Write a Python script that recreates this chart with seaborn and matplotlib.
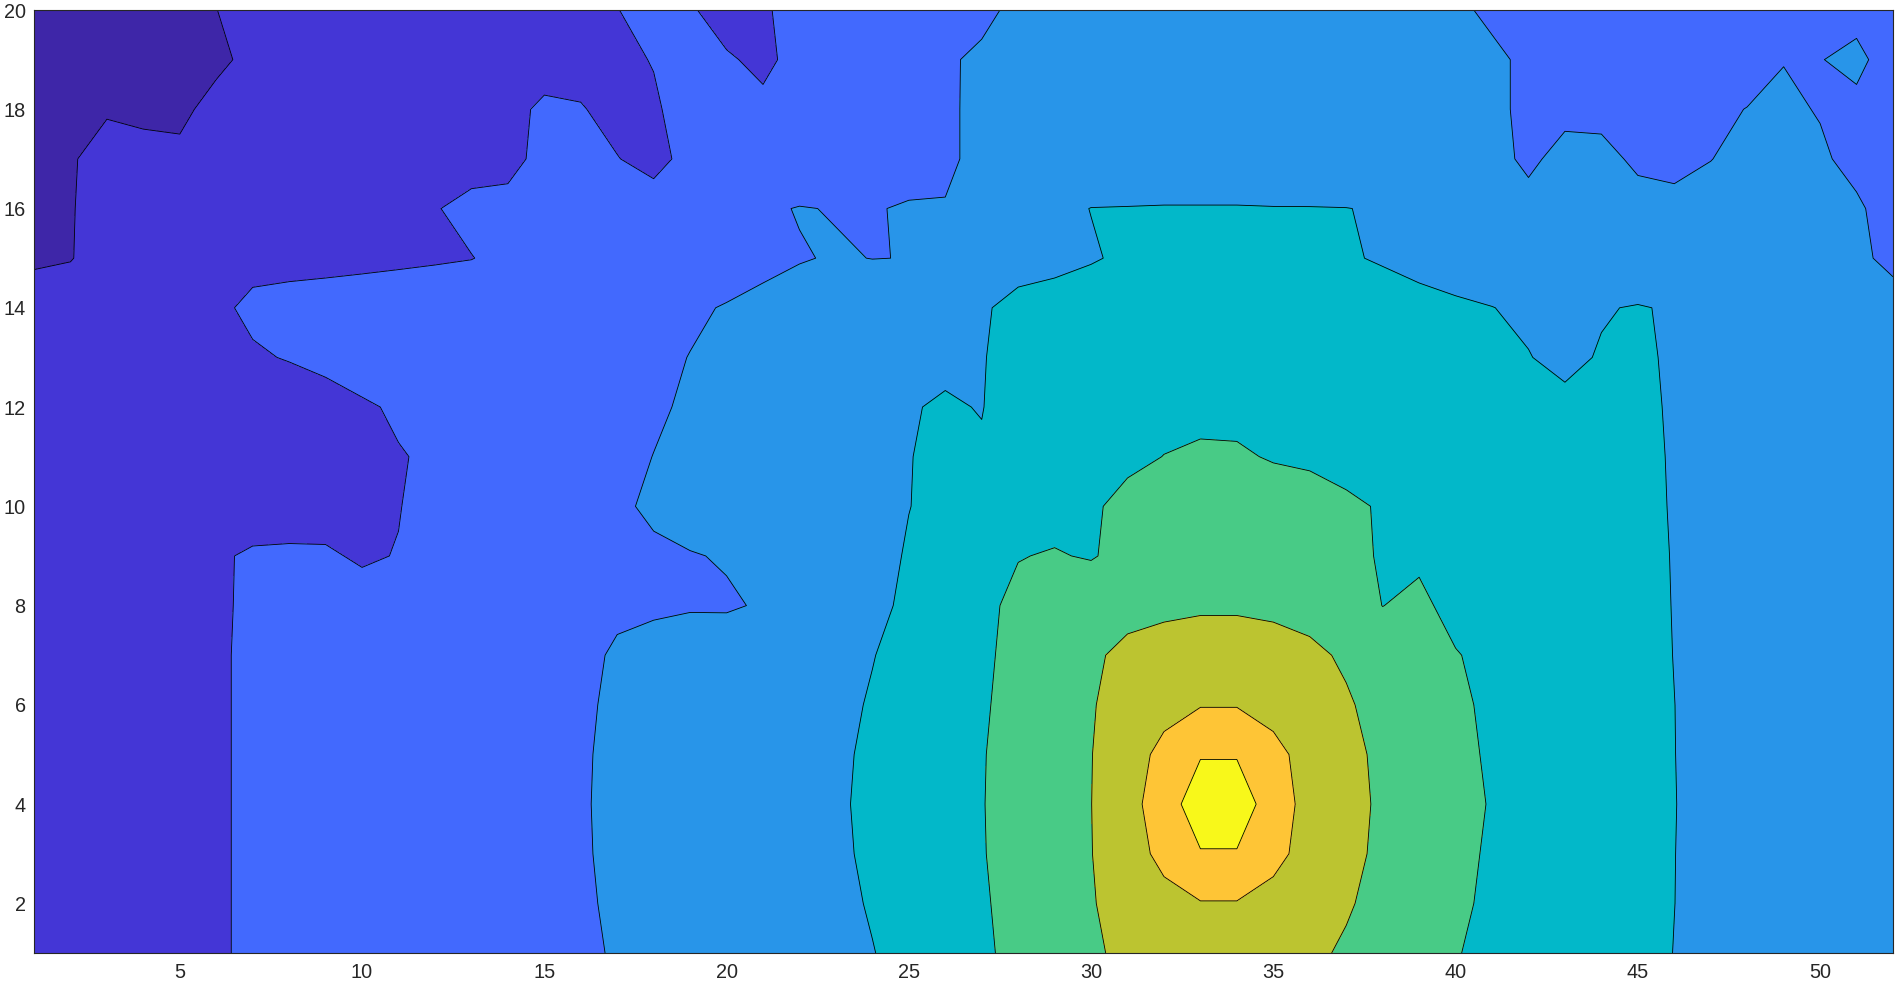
import numpy as np
import matplotlib
matplotlib.use("Agg")
import matplotlib.pyplot as plt
import seaborn as sns

# ---- data: grid coordinates -------------------------------------------------
x_coords = list(range(1, 53))   # 1 .. 52
y_coords = list(range(1, 21))   # 1 .. 20

# ---- data: field values, one row per y -------------------------------------
row_y01 = [1.5, 1.6, 1.65, 1.7, 1.8, 1.93, 2.1, 2.2, 2.3, 2.4,
           2.45, 2.5, 2.6, 2.7, 2.8, 2.9, 3.05, 3.15, 3.25, 3.35,
           3.45, 3.6, 3.75, 3.98, 4.2, 4.5, 4.85, 5.25, 5.6, 5.9,
           6.15, 6.3, 6.42, 6.42, 6.3, 6.15, 5.9, 5.55, 5.25, 5.05,
           4.75, 4.55, 4.4, 4.25, 4.1, 3.995, 3.9, 3.85, 3.8, 3.75,
           3.7, 3.65]
row_y02 = [1.5, 1.6, 1.65, 1.7, 1.8, 1.93, 2.1, 2.2, 2.3, 2.4,
           2.5, 2.6, 2.65, 2.75, 2.85, 2.93, 3.08, 3.2, 3.3, 3.4,
           3.55, 3.7, 3.85, 4.05, 4.3, 4.6, 4.9, 5.3, 5.65, 5.95,
           6.3, 6.65, 6.95, 6.95, 6.65, 6.35, 6.08, 5.75, 5.45, 5.15,
           4.85, 4.6, 4.45, 4.3, 4.15, 4.002, 3.9, 3.85, 3.8, 3.75,
           3.7, 3.65]
row_y03 = [1.5, 1.6, 1.65, 1.7, 1.8, 1.93, 2.1, 2.2, 2.3, 2.4,
           2.5, 2.6, 2.7, 2.8, 2.87, 2.95, 3.1, 3.2, 3.3, 3.45,
           3.55, 3.7, 3.9, 4.1, 4.35, 4.65, 4.95, 5.35, 5.7, 5.98,
           6.5, 7.3, 7.95, 7.95, 7.3, 6.6, 6.2, 5.85, 5.5, 5.2,
           4.9, 4.65, 4.5, 4.35, 4.2, 4.003, 3.92, 3.87, 3.82, 3.77,
           3.72, 3.67]
row_y04 = [1.5, 1.6, 1.65, 1.7, 1.8, 1.93, 2.1, 2.2, 2.3, 2.4,
           2.5, 2.6, 2.7, 2.8, 2.88, 2.96, 3.1, 3.2, 3.3, 3.45,
           3.6, 3.75, 3.92, 4.12, 4.4, 4.7, 4.96, 5.4, 5.7, 5.99,
           6.6, 7.6, 8.45, 8.45, 7.6, 6.6, 6.25, 5.88, 5.55, 5.25,
           4.95, 4.7, 4.5, 4.35, 4.2, 4.005, 3.93, 3.88, 3.83, 3.78,
           3.73, 3.68]
row_y05 = [1.5, 1.6, 1.65, 1.7, 1.8, 1.93, 2.1, 2.2, 2.3, 2.4,
           2.5, 2.6, 2.7, 2.8, 2.87, 2.95, 3.1, 3.2, 3.3, 3.45,
           3.55, 3.7, 3.9, 4.1, 4.35, 4.65, 4.95, 5.35, 5.7, 5.98,
           6.5, 7.3, 7.95, 7.95, 7.3, 6.6, 6.2, 5.85, 5.5, 5.2,
           4.9, 4.65, 4.5, 4.35, 4.2, 4.003, 3.92, 3.87, 3.82, 3.77,
           3.72, 3.67]
row_y06 = [1.5, 1.6, 1.65, 1.7, 1.8, 1.93, 2.1, 2.2, 2.3, 2.4,
           2.5, 2.6, 2.65, 2.75, 2.85, 2.93, 3.08, 3.2, 3.3, 3.4,
           3.55, 3.7, 3.85, 4.05, 4.3, 4.6, 4.9, 5.3, 5.65, 5.95,
           6.3, 6.65, 6.95, 6.95, 6.65, 6.35, 6.08, 5.75, 5.45, 5.15,
           4.85, 4.6, 4.45, 4.3, 4.15, 4.002, 3.9, 3.85, 3.8, 3.75,
           3.7, 3.65]
row_y07 = [1.5, 1.6, 1.65, 1.7, 1.8, 1.93, 2.1, 2.2, 2.3, 2.4,
           2.45, 2.5, 2.6, 2.7, 2.8, 2.9, 3.05, 3.12, 3.25, 3.35,
           3.45, 3.6, 3.75, 3.98, 4.2, 4.5, 4.85, 5.25, 5.6, 5.9,
           6.15, 6.3, 6.4, 6.4, 6.3, 6.15, 5.9, 5.5, 5.25, 5.05,
           4.75, 4.55, 4.4, 4.25, 4.1, 3.995, 3.9, 3.85, 3.8, 3.75,
           3.7, 3.65]
row_y08 = [1.5, 1.6, 1.65, 1.7, 1.8, 1.93, 2.08, 2.15, 2.2, 2.1,
           2.3, 2.4, 2.5, 2.6, 2.7, 2.8, 2.93, 2.95, 2.96, 2.94,
           3.05, 3.3, 3.55, 3.8, 4.15, 4.5, 4.8, 5.2, 5.5, 5.7,
           5.8, 5.85, 5.9, 5.9, 5.85, 5.75, 5.4, 4.99, 5.2, 4.7,
           4.5, 4.4, 4.3, 4.2, 4.1, 3.99, 3.9, 3.85, 3.8, 3.75,
           3.7, 3.65]
row_y09 = [1.5, 1.6, 1.65, 1.7, 1.8, 1.95, 2.05, 2.05, 2.03, 1.97,
           2.01, 2.15, 2.3, 2.45, 2.6, 2.7, 2.8, 2.9, 2.97, 3.04,
           3.3, 3.45, 3.6, 3.8, 4.05, 4.35, 4.6, 4.97, 5.06, 4.93,
           5.3, 5.5, 5.6, 5.6, 5.5, 5.35, 5.15, 4.95, 4.85, 4.75,
           4.65, 4.55, 4.45, 4.35, 4.2, 3.97, 3.85, 3.8, 3.75, 3.7,
           3.65, 3.6]
row_y10 = [1.45, 1.55, 1.6, 1.65, 1.7, 1.75, 1.8, 1.85, 1.9, 1.95,
           1.99, 2.1, 2.25, 2.4, 2.55, 2.7, 2.9, 3.1, 3.25, 3.4,
           3.55, 3.65, 3.75, 3.85, 3.99, 4.15, 4.35, 4.55, 4.7, 4.9,
           5.2, 5.35, 5.45, 5.45, 5.35, 5.25, 5.1, 4.95, 4.8, 4.7,
           4.6, 4.5, 4.45, 4.35, 4.2, 3.95, 3.85, 3.75, 3.7, 3.65,
           3.6, 3.55]
row_y11 = [1.4, 1.5, 1.6, 1.65, 1.7, 1.75, 1.8, 1.85, 1.9, 1.95,
           1.98, 2.05, 2.2, 2.35, 2.5, 2.65, 2.8, 3.01, 3.2, 3.35,
           3.5, 3.65, 3.8, 3.9, 3.98, 4.15, 4.06, 4.4, 4.6, 4.75,
           4.85, 5.01, 5.1, 5.08, 4.95, 4.9, 4.8, 4.7, 4.6, 4.5,
           4.45, 4.4, 4.3, 4.2, 4.15, 3.95, 3.8, 3.7, 3.65, 3.6,
           3.55, 3.5]
row_y12 = [1.3, 1.4, 1.5, 1.6, 1.65, 1.7, 1.75, 1.8, 1.85, 1.95,
           2.05, 2.15, 2.25, 2.35, 2.45, 2.55, 2.7, 2.9, 3.1, 3.25,
           3.4, 3.55, 3.7, 3.85, 3.97, 4.05, 3.98, 4.3, 4.5, 4.65,
           4.75, 4.8, 4.82, 4.82, 4.8, 4.75, 4.7, 4.6, 4.5, 4.4,
           4.3, 4.2, 4.15, 4.15, 4.1, 3.95, 3.75, 3.65, 3.55, 3.5,
           3.45, 3.4]
row_y13 = [1.2, 1.35, 1.5, 1.6, 1.7, 1.8, 1.96, 2.02, 2.1, 2.2,
           2.3, 2.4, 2.5, 2.6, 2.7, 2.75, 2.85, 2.9, 3.01, 3.1,
           3.25, 3.4, 3.55, 3.7, 3.97, 3.9, 3.97, 4.2, 4.35, 4.5,
           4.6, 4.65, 4.7, 4.7, 4.65, 4.6, 4.5, 4.4, 4.3, 4.2,
           4.1, 4.02, 3.85, 4.05, 4.1, 3.92, 3.8, 3.65, 3.55, 3.45,
           3.4, 3.3]
row_y14 = [1.1, 1.25, 1.4, 1.6, 1.75, 1.93, 2.07, 2.1, 2.12, 2.15,
           2.2, 2.25, 2.3, 2.5, 2.6, 2.7, 2.8, 2.88, 2.93, 3.03,
           3.15, 3.3, 3.4, 3.5, 3.6, 3.75, 3.9, 4.25, 4.3, 4.35,
           4.4, 4.45, 4.5, 4.5, 4.45, 4.4, 4.35, 4.25, 4.15, 4.08,
           4.01, 3.9, 3.85, 3.95, 4.05, 3.92, 3.75, 3.6, 3.5, 3.4,
           3.3, 3.2]
row_y15 = [0.97, 0.98, 1.2, 1.35, 1.45, 1.55, 1.9, 1.91, 1.92, 1.93,
           1.94, 1.96, 1.99, 2.1, 2.2, 2.3, 2.4, 2.5, 2.6, 2.75,
           2.85, 2.96, 3.05, 2.99, 3.01, 3.2, 3.45, 3.65, 3.8, 3.95,
           4.1, 4.2, 4.25, 4.25, 4.2, 4.15, 4.05, 3.95, 3.85, 3.75,
           3.65, 3.55, 3.45, 3.35, 3.3, 3.3, 3.35, 3.35, 3.3, 3.2,
           3.1, 2.88]
row_y16 = [0.85, 0.97, 1.2, 1.35, 1.45, 1.5, 1.55, 1.6, 1.7, 1.8,
           1.88, 1.98, 2.1, 2.05, 2.15, 2.2, 2.2, 2.15, 2.4, 2.65,
           2.9, 3.03, 2.97, 2.98, 3.03, 3.03, 3.5, 3.7, 3.85, 4.01,
           4.02, 4.03, 4.03, 4.03, 4.02, 4.02, 4.01, 3.95, 3.85, 3.75,
           3.6, 3.05, 3.3, 3.25, 3.1, 3.05, 3.2, 3.25, 3.2, 3.15,
           3.05, 2.85]
row_y17 = [0.8, 0.95, 1.2, 1.15, 1.1, 1.4, 1.5, 1.55, 1.6, 1.65,
           1.7, 1.8, 1.85, 1.95, 2.05, 2.1, 2.01, 1.9, 2.1, 2.2,
           2.3, 2.4, 2.55, 2.7, 2.85, 2.9, 3.15, 3.3, 3.4, 3.5,
           3.55, 3.6, 3.6, 3.6, 3.55, 3.5, 3.45, 3.35, 3.25, 3.15,
           3.05, 2.97, 3.05, 3.08, 2.95, 2.95, 2.99, 3.15, 3.12, 3.05,
           2.9, 2.8]
row_y18 = [0.7, 0.9, 0.95, 0.9, 0.9, 1.15, 1.3, 1.4, 1.5, 1.6,
           1.65, 1.7, 1.8, 1.9, 2.06, 2.02, 1.9, 1.97, 2.1, 2.15,
           2.1, 2.05, 2.3, 2.5, 2.7, 2.9, 3.15, 3.25, 3.35, 3.4,
           3.45, 3.5, 3.5, 3.5, 3.45, 3.4, 3.35, 3.25, 3.2, 3.1,
           3.05, 2.95, 2.96, 2.92, 2.85, 2.9, 2.91, 3.01, 3.06, 2.98,
           2.85, 2.75]
row_y19 = [0.6, 0.7, 0.75, 0.8, 0.85, 0.9, 1.12, 1.25, 1.35, 1.45,
           1.55, 1.6, 1.65, 1.7, 1.85, 1.88, 1.95, 2.01, 2.1, 2.05,
           1.9, 2.15, 2.3, 2.5, 2.7, 2.95, 3.07, 3.2, 3.3, 3.35,
           3.4, 3.45, 3.45, 3.45, 3.4, 3.35, 3.3, 3.25, 3.2, 3.1,
           3.05, 2.95, 2.9, 2.85, 2.8, 2.8, 2.8, 2.8, 2.99, 2.98,
           3.15, 2.7]
row_y20 = [0.6, 0.65, 0.7, 0.75, 0.8, 0.99, 1.3, 1.4, 1.45, 1.5,
           1.55, 1.6, 1.65, 1.7, 1.75, 1.85, 1.98, 2.3, 2.05, 1.8,
           1.95, 2.15, 2.3, 2.45, 2.6, 2.75, 2.9, 3.1, 3.2, 3.3,
           3.35, 3.4, 3.4, 3.4, 3.35, 3.3, 3.25, 3.2, 3.1, 3.05,
           2.95, 2.85, 2.8, 2.75, 2.7, 2.7, 2.7, 2.7, 2.75, 2.8,
           2.8, 2.6]

# ---- contour levels and colours --------------------------------------------
levels = [0, 1, 2, 3, 4, 5, 6, 7, 8, 9]
fill_colors = ["#3E26A8", "#4436D6", "#4269FE", "#2895E9", "#02B8C9",
               "#48CB86", "#BCC430", "#FEC536", "#F8F81A"]
x_ticks = [5, 10, 15, 20, 25, 30, 35, 40, 45, 50]
y_ticks = [2, 4, 6, 8, 10, 12, 14, 16, 18, 20]

Z = np.array([row_y01, row_y02, row_y03, row_y04, row_y05, row_y06, row_y07,
              row_y08, row_y09, row_y10, row_y11, row_y12, row_y13, row_y14,
              row_y15, row_y16, row_y17, row_y18, row_y19, row_y20])
X, Y = np.meshgrid(np.array(x_coords, dtype=float), np.array(y_coords, dtype=float))

sns.set_style("ticks")
plt.rcParams["font.family"] = ["Liberation Sans", "DejaVu Sans"]

fig = plt.figure(figsize=(18.97, 9.86), dpi=100)
ax = fig.add_axes([34 / 1897, 33 / 986, 1859 / 1897, 943 / 986])

pal = sns.color_palette(fill_colors)
ax.contourf(X, Y, Z, levels=levels, colors=pal)
ax.contour(X, Y, Z, levels=levels[1:-1], colors="black", linewidths=0.6)

ax.set_xlim(1, 52)
ax.set_ylim(1, 20)
ax.set_xticks(x_ticks)
ax.set_yticks(y_ticks)
ax.tick_params(direction="in", length=13.2, width=0.6, colors="#262626",
               top=True, right=True, labeltop=False, labelright=False,
               labelsize=14.3)
ax.tick_params(axis="x", pad=7.5)
ax.tick_params(axis="y", pad=6)
for s in ax.spines.values():
    s.set_visible(True)
    s.set_color("#262626")
    s.set_linewidth(0.8)
ax.set_xlabel("")
ax.set_ylabel("")

fig.savefig("out.png", dpi=100)
